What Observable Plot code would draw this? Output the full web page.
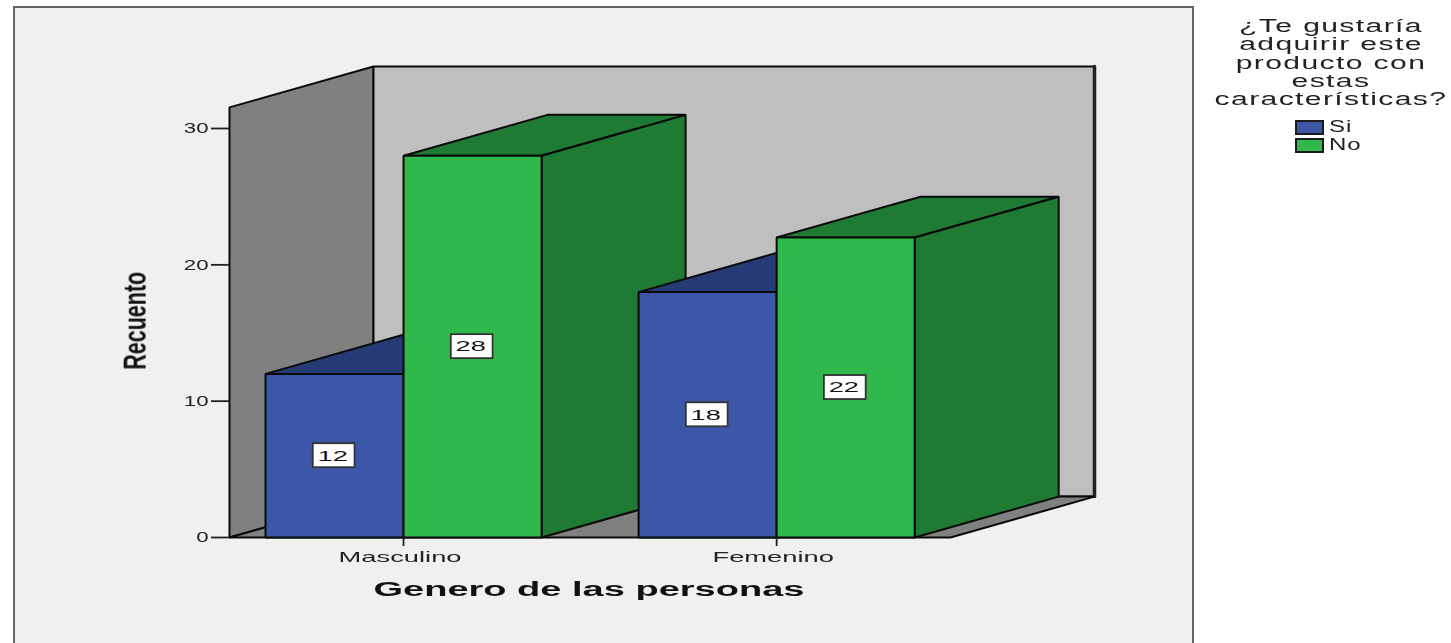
<!DOCTYPE html>
<html><head><meta charset="utf-8">
<script src="https://cdn.jsdelivr.net/npm/d3@7"></script>
<script src="https://cdn.jsdelivr.net/npm/@observablehq/plot@0.6"></script>
<style>
html,body{margin:0;padding:0;background:#fff;width:1451px;height:643px;overflow:hidden;font-family:"Liberation Sans",Arial,sans-serif}
#panel{position:absolute;left:13px;top:6px;width:1177px;height:660px;background:#f0f0f0;border:2px solid #666}
#chart{position:absolute;left:0;top:0;filter:blur(0.45px)}
#legend{position:absolute;left:1207px;top:17px;width:248px;color:#222;filter:blur(0.4px)}
#legend .t{font-size:17.5px;line-height:18.3px;text-align:center;letter-spacing:0.8px;height:18.3px;white-space:nowrap;transform:scaleX(1.72);transform-origin:center}
.row{position:absolute;left:88px;height:16px;display:flex;align-items:center;font-size:16px;letter-spacing:0.6px}
.row b{font-weight:normal;display:inline-block;transform:scaleX(1.5);transform-origin:left}
.sw{display:inline-block;width:25px;height:11px;border:2px solid #1a1a1a;margin-right:5px}
</style></head>
<body>
<div id="panel"></div><div id="chart"></div>
<div id="legend"></div>
<script>
const categories = ["Masculino", "Femenino"];
const series = ["Si", "No"];
const siValues = [12, 18];
const noValues = [28, 22];
const yTicks = [0, 10, 20, 30];
const legendTitle = ["¿Te gustaría", "adquirir este", "producto con", "estas", "características?"];
const colors = {Si: "#3d57a8", No: "#2fb84b"};
const darkColors = {Si: "#263a75", No: "#1f7a33"};

const barW = 0.37, depthX = 0.386, depthY = 3, wallTop = 31.55;
const xMin = -0.4665, xMax = 1.466;

const pts = a => a.map(([x, y]) => ({x, y}));
const poly = (a, fill, strokeWidth = 2) =>
  Plot.line(pts(a), {x: "x", y: "y", fill, stroke: "#0a0a0a", strokeWidth, curve: "linear-closed", strokeLinejoin: "miter"});

function bar(x0, v, key) {
  const x1 = x0 + barW;
  return [
    poly([[x0, v], [x0 + depthX, v + depthY], [x1 + depthX, v + depthY], [x1, v]], darkColors[key]),
    poly([[x1, 0], [x1 + depthX, depthY], [x1 + depthX, v + depthY], [x1, v]], darkColors[key]),
    poly([[x0, 0], [x0, v], [x1, v], [x1, 0]], colors[key])
  ];
}
const labels = [];
categories.forEach((c, i) => {
  labels.push({x: i - barW / 2, v: siValues[i]});
  labels.push({x: i + barW / 2, v: noValues[i]});
});

const chart = Plot.plot({
  width: 1451, height: 643,
  marginLeft: 229, marginRight: 501, marginTop: 128, marginBottom: 106,
  x: {domain: [xMin, xMax]},
  y: {domain: [0, 30]},
  style: {background: "none", fontFamily: "'Liberation Sans',Arial,sans-serif", color: "#222"},
  marks: [
    poly([[xMin, 0], [xMin, wallTop], [xMin + depthX, wallTop + depthY], [xMin + depthX, depthY]], "#808080"),
    poly([[xMin + depthX, depthY], [xMin + depthX, wallTop + depthY], [xMax + depthX, wallTop + depthY], [xMax + depthX, depthY]], "#bfbfbf"),
    Plot.line(pts([[xMax + depthX, depthY], [xMax + depthX, wallTop + depthY]]), {x: "x", y: "y", stroke: "#222", strokeWidth: 3.5}),
    poly([[xMin, 0], [xMin + depthX, depthY], [xMax + depthX, depthY], [xMax, 0]], "#808080"),
    categories.map((c, i) => [
      bar(i - barW, siValues[i], "Si"),
      bar(i, noValues[i], "No")
    ]),
    Plot.rect(labels, {
      x1: d => d.x - 0.057, x2: d => d.x + 0.055,
      y1: d => d.v / 2 - 0.88, y2: d => d.v / 2 + 0.88,
      fill: "#fff", stroke: "#333", strokeWidth: 1.8
    }),
    Plot.text(labels, {
      x: d => d.x - 0.005, y: d => d.v / 2, text: d => String(d.v),
      fontSize: 15, fill: "#111", className: "vals"
    }),
    Plot.axisY({ticks: yTicks, tickSize: 18, tickPadding: 3, fontSize: 15, label: null, anchor: "left", strokeWidth: 1.8, className: "yax"}),
    Plot.axisX({ticks: [0, 1], tickSize: 9, tickPadding: 5, fontSize: 15, label: null, tickFormat: i => categories[i], strokeWidth: 1.8, className: "xax"}),
    Plot.text(["Recuento"], {x: -0.718, y: 15.9, rotate: -90, fontSize: 32, fontWeight: "bold", fill: "#111", className: "recuento"}),
    Plot.text(["Genero de las personas"], {x: 0.497, y: -3.85, fontSize: 20, fontWeight: "bold", fill: "#111", className: "genero"})
  ]
});
document.getElementById("chart").append(chart);

function stretch(sel, f) {
  chart.querySelectorAll(sel).forEach(t => {
    const n = t.getComputedTextLength();
    t.setAttribute("textLength", typeof f === "function" ? f(n) : n * f);
    t.setAttribute("lengthAdjust", "spacingAndGlyphs");
  });
}
stretch(".yax text, text.yax", 1.48);
stretch(".xax text, text.xax", 1.82);
chart.querySelectorAll(".xax text, text.xax").forEach(t => t.setAttribute("dx", -3.5));
stretch(".vals text, text.vals", 1.82);
stretch(".recuento text, text.recuento", () => 98);
stretch(".genero text, text.genero", () => 431);

const legend = document.getElementById("legend");
legendTitle.forEach(s => {
  const d = document.createElement("div");
  d.className = "t"; d.textContent = s; legend.append(d);
});
series.forEach((s, i) => {
  const r = document.createElement("div");
  r.className = "row";
  r.style.top = (102 + i * 18) + "px";
  const sw = document.createElement("span");
  sw.className = "sw"; sw.style.background = colors[s];
  const lab = document.createElement("b");
  lab.textContent = s;
  r.append(sw, lab);
  legend.append(r);
});
</script>
</body></html>
